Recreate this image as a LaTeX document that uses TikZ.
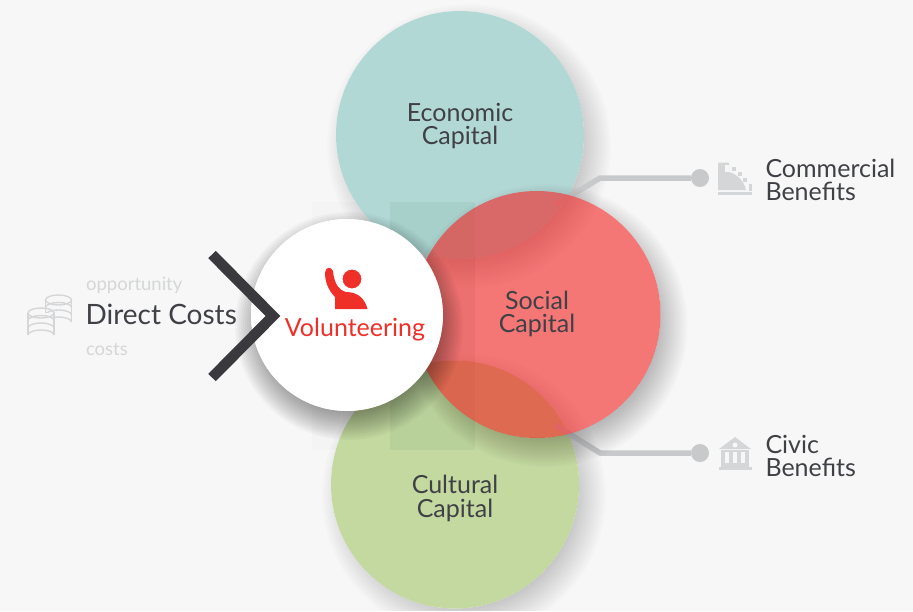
\documentclass[tikz,border=0pt]{standalone}
\usepackage{fontspec}
\setmainfont{Lato}
\definecolor{pagebg}{HTML}{F7F7F7}
\definecolor{tealcap}{HTML}{B2D8D6}
\definecolor{greencap}{HTML}{C4D9A0}
\definecolor{redcap}{HTML}{F2201F}
\definecolor{redtext}{HTML}{EF3029}
\definecolor{darktext}{HTML}{404146}
\definecolor{chevron}{HTML}{3A3A3E}
\definecolor{leader}{HTML}{C8C9CA}
\definecolor{paletext}{HTML}{D5D6D7}
\definecolor{bandtint}{HTML}{2F7A55}
\tikzset{
  capital/.style={circle,minimum size=#1,inner sep=0pt},
  captext/.style={align=center,text=darktext,font=\fontsize{25}{23.5}\selectfont},
  sidetext/.style={align=left,anchor=west,text=darktext,font=\fontsize{25}{23.5}\selectfont},
  paletxt/.style={anchor=west,text=paletext,font=\fontsize{18.5}{18.5}\selectfont},
  leaderline/.style={leader,line width=5.5pt,line join=round},
  leaderdot/.style={circle,fill=leader,minimum size=18pt,inner sep=0pt},
  coin/.style={draw=paletext,line width=1.4pt}
}
\newcommand{\softshadow}[5]{
  \begin{scope}[even odd rule]
    \clip (0,0) rectangle (913,611) (#1,#2) circle (#3);
    \foreach \k in {-14,-12,...,18}
      \fill[black,opacity=#5] (#1+#4,#2+11) circle (#3+\k);
  \end{scope}
}
\newcommand{\coinstack}[2]{
  \fill[pagebg] (#1-13,#2) -- (#1-13,#2+22) arc (180:360:13 and 5) -- (#1+13,#2) -- cycle;
  \foreach \d in {7.5,15,22}
    \draw[coin] (#1-13,#2+\d) arc (180:360:13 and 5);
  \draw[coin] (#1-13,#2) -- (#1-13,#2+22) (#1+13,#2) -- (#1+13,#2+22);
  \draw[coin] (#1,#2) ellipse (13 and 5);
}
\begin{document}
\begin{tikzpicture}[x=1pt,y=-1pt]
  \fill[pagebg] (0,0) rectangle (913,611);
  \useasboundingbox (0,0) rectangle (913,611);
  \fill[black,opacity=0.012] (312,202) rectangle (475,450);

  \softshadow{460}{135}{124}{9}{0.011}
  \node[capital=248pt,fill=tealcap] (economic) at (460,135) {};
  \softshadow{455}{484.5}{124}{9}{0.011}
  \node[capital=248pt,fill=greencap] (cultural) at (455,484.5) {};
  \fill[bandtint,opacity=0.08] (390,202) rectangle (475,450);

  \node[leaderdot] (commercialdot) at (700,178) {};
  \coordinate (commercialbend) at (600,178);
  \coordinate (commercialend) at (555,205);
  \draw[leaderline] (commercialdot) -- (commercialbend) -- (commercialend);
  \node[leaderdot] (civicdot) at (700,453) {};
  \coordinate (civicbend) at (600,453);
  \coordinate (civicend) at (555,425);
  \draw[leaderline] (civicdot) -- (civicbend) -- (civicend);

  \softshadow{537}{314.5}{123.5}{9}{0.014}
  \node[capital=247pt,fill=redcap,fill opacity=0.6] (social) at (537,314.5) {};

  \softshadow{347}{315}{96}{2}{0.026}
  \node[capital=192pt,fill=white] (volunteer) at (347,315) {};

  \node[captext] (economictext) at (460,126) {Economic\\Capital};
  \node[captext] (socialtext) at (537,314) {Social\\Capital};
  \node[captext] (culturaltext) at (455,498.5) {Cultural\\Capital};
  \node[text=redtext,font=\fontsize{25}{25}\selectfont] (volunteertext) at (355,329.5) {Volunteering};

  \fill[redtext] (335,309) -- (335,297) .. controls (328,290) and (325,281) .. (325,273)
    .. controls (325,267) and (331,266) .. (333,271) .. controls (334,282) and (338,290) .. (346,292)
    .. controls (358,292) and (365,299) .. (367.5,309) -- cycle;
  \node[circle,fill=redtext,minimum size=20pt,inner sep=0pt,draw=white,line width=1pt] (volunteerhead) at (352,279) {};

  \coordinate (chevrontop) at (212,254.5);
  \coordinate (chevrontip) at (273,316);
  \coordinate (chevronlow) at (212,377.5);
  \draw[chevron,line width=10.5pt,miter limit=4] (chevrontop) -- (chevrontip) -- (chevronlow);

  \node[paletxt] (opportunity) at (82.5,285.5) {opportunity};
  \node[anchor=west,text=darktext,font=\fontsize{28}{28}\selectfont] (direct) at (82,314) {Direct Costs};
  \node[paletxt] (costs) at (82.5,349) {costs};
  \coinstack{58.5}{300}
  \coinstack{41}{313}

  \node[sidetext] (commercial) at (762,180) {Commercial\\Benefits};
  \node[sidetext] (civic) at (762,456) {Civic\\Benefits};

  \fill[paletext] (718,162.5) -- (729,162.5) -- (729,172) .. controls (737,174) and (744,181) .. (746,190) -- (718,190) -- cycle;
  \fill[pagebg] (724.5,164.5) rectangle (729,172);
  \fill[paletext] (718,191.5) rectangle (752,195);
  \foreach \px/\py in {734/169,739.5/173.5,744.5/180}
    \fill[paletext] (\px-2,\py-2) rectangle (\px+2,\py+2);
  \fill[paletext] (749,184) rectangle (752,191);

  \fill[paletext] (735,437) -- (751,449) -- (719,449) -- cycle;
  \fill[pagebg] (735,445) circle (2.5);
  \fill[paletext] (721,450) rectangle (749,452);
  \foreach \px in {723,731,739,747}
    \fill[paletext] (\px-1.7,452) rectangle (\px+1.7,463);
  \fill[paletext] (721,463) rectangle (749,467);
  \fill[paletext] (719,467) rectangle (752,470);
\end{tikzpicture}
\end{document}
